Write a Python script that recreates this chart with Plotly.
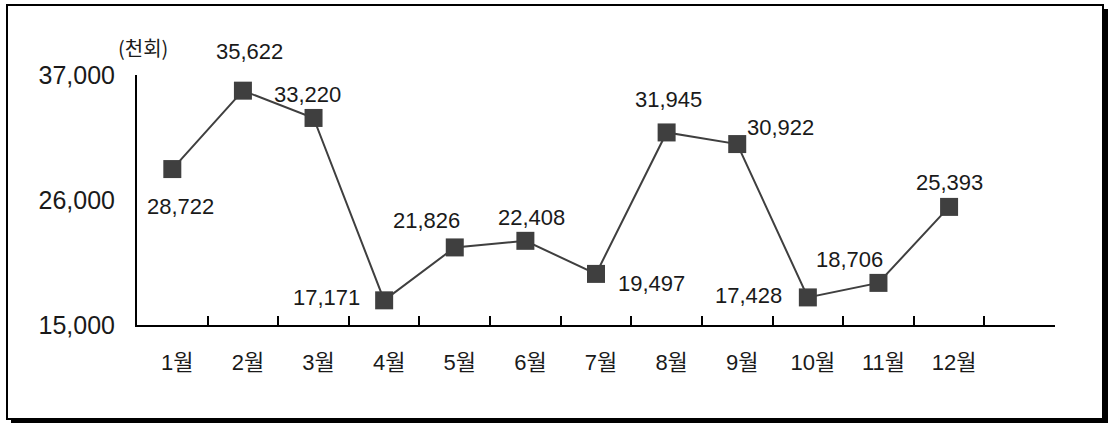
import plotly.graph_objects as go

months = ["1월", "2월", "3월", "4월", "5월", "6월", "7월", "8월", "9월", "10월", "11월", "12월"]
values = [28722, 35622, 33220, 17171, 21826, 22408, 19497, 31945, 30922, 17428, 18706, 25393]
y_ticks = [15000, 26000, 37000]
y_tick_labels = ["15,000", "26,000", "37,000"]
unit_label = "(천회)"

# label offsets in pixels (dx, dy up)
label_offsets = [(8, -37), (7, 39), (-6, 23), (-58, 3), (-28, 27), (6, 23),
                 (55, -10), (2, 33), (43, 17), (-59, 2), (-29, 23), (0, 24)]

W, H = 1108, 423
L, R, T, B = 137, 53, 75, 98
pw, ph = W - L - R, H - T - B

def px_x(p):
    return (p - L) / pw

def px_y(p):
    return (H - B - p) / ph

FONT = "Liberation Sans, Arial, Noto Sans CJK KR, sans-serif"
TXT = "#1a1a1a"
MK = "#3f3f3f"

fig = go.Figure()
fig.add_trace(go.Scatter(
    x=months, y=values, mode="lines+markers",
    line=dict(color=MK, width=2),
    marker=dict(symbol="square", size=18, color=MK),
    cliponaxis=False, hoverinfo="skip", showlegend=False,
))

annotations = []
for m, v, (dx, dy) in zip(months, values, label_offsets):
    annotations.append(dict(
        x=m, y=v, xref="x", yref="y", text=f"{v:,}", showarrow=False,
        xanchor="center", yanchor="middle",
        xshift=dx, yshift=dy, font=dict(family=FONT, size=22, color=TXT),
    ))
annotations.append(dict(
    x=0, y=1, xref="paper", yref="paper", text=unit_label, showarrow=False,
    xanchor="center", yanchor="middle",
    xshift=6, yshift=28, font=dict(family="Noto Sans CJK KR, sans-serif", size=20, color=TXT),
))

shapes = [
    # shadow
    dict(type="rect", xref="paper", yref="paper", layer="below",
         x0=px_x(11), x1=px_x(1108), y0=px_y(423), y1=px_y(9),
         fillcolor="black", line=dict(width=0)),
    # frame
    dict(type="rect", xref="paper", yref="paper", layer="below",
         x0=px_x(7), x1=px_x(1103), y0=px_y(419), y1=px_y(5),
         fillcolor="white", line=dict(color="black", width=2)),
]

fig.update_layout(
    width=W, height=H,
    margin=dict(l=L, r=R, t=T, b=B),
    paper_bgcolor="white", plot_bgcolor="rgba(0,0,0,0)",
    font=dict(family=FONT, color=TXT),
    annotations=annotations, shapes=shapes,
    xaxis=dict(
        type="category", categoryarray=months + [" "], categoryorder="array",
        range=[-0.5, 12.5], tickson="boundaries", ticks="inside", ticklen=9,
        tickwidth=1.5, tickcolor="black", showline=True, linecolor="black",
        linewidth=2, showgrid=False, zeroline=False,
        tickfont=dict(family=FONT, size=22, color=TXT),
        ticklabelstandoff=17, ticklabelshift=5,
    ),
    yaxis=dict(
        range=[15000, 37000], tickvals=y_ticks, ticktext=y_tick_labels,
        ticks="", showline=True, linecolor="black", linewidth=2,
        showgrid=False, zeroline=False,
        tickfont=dict(family=FONT, size=25, color=TXT),
        ticklabelstandoff=15,
    ),
)

fig.write_html("out.html", config={"displayModeBar": False},
               post_script="document.body.style.margin='0';")
